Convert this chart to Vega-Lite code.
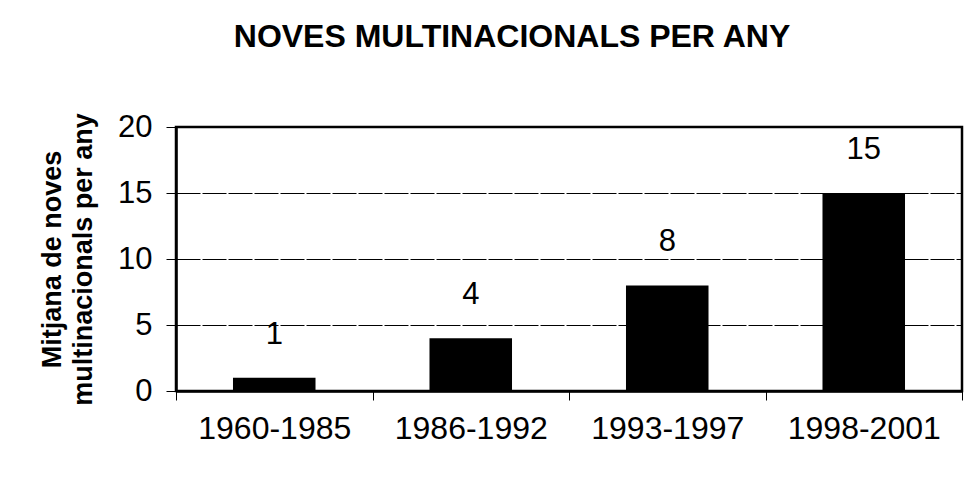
{
  "$schema": "https://vega.github.io/schema/vega-lite/v6.json",
  "autosize": "none",
  "width": 786,
  "height": 264,
  "padding": {"left": 176, "top": 127, "right": 10, "bottom": 90},
  "background": "white",
  "title": {
    "text": "NOVES MULTINACIONALS PER ANY",
    "font": "Liberation Sans",
    "fontSize": 32,
    "fontWeight": "bold",
    "color": "black",
    "anchor": "middle",
    "dx": -57,
    "offset": 57
  },
  "data": {
    "values": [
      {"periode": "1960-1985", "mitjana": 1},
      {"periode": "1986-1992", "mitjana": 4},
      {"periode": "1993-1997", "mitjana": 8},
      {"periode": "1998-2001", "mitjana": 15}
    ]
  },
  "encoding": {
    "x": {
      "field": "periode",
      "type": "nominal",
      "sort": null,
      "scale": {"paddingInner": 0, "paddingOuter": 0},
      "axis": {
        "title": null,
        "labelAngle": 0,
        "labelFont": "Liberation Sans",
        "labelFontSize": 32,
        "labelColor": "black",
        "labelPadding": 13,
        "tickBand": "extent",
        "tickColor": "black",
        "tickSize": 9,
        "domainColor": "black",
        "domainWidth": 2.5,
        "grid": false
      }
    },
    "y": {
      "field": "mitjana",
      "type": "quantitative",
      "scale": {"domain": [0, 20]},
      "axis": {
        "title": ["Mitjana de noves", "multinacionals per any"],
        "titleFont": "Liberation Sans",
        "titleFontSize": 27,
        "titleFontWeight": "bold",
        "titleColor": "black",
        "titlePadding": 20,
        "titleLineHeight": 31,
        "values": [0, 5, 10, 15, 20],
        "labelFont": "Liberation Sans",
        "labelFontSize": 31,
        "labelColor": "black",
        "labelPadding": 14,
        "tickSize": 10,
        "tickColor": "black",
        "domainColor": "black",
        "domainWidth": 2.5,
        "grid": true,
        "gridColor": "black",
        "gridWidth": 1,
        "gridDash": [24, 2],
        "gridOpacity": 1
      }
    }
  },
  "layer": [
    {"mark": {"type": "bar", "color": "black", "width": {"band": 0.42}}},
    {
      "mark": {
        "type": "text",
        "baseline": "bottom",
        "dy": -27,
        "font": "Liberation Sans",
        "fontSize": 31,
        "color": "black"
      },
      "encoding": {"text": {"field": "mitjana", "type": "quantitative"}}
    }
  ],
  "config": {"view": {"stroke": "black", "strokeWidth": 2.5}}
}
